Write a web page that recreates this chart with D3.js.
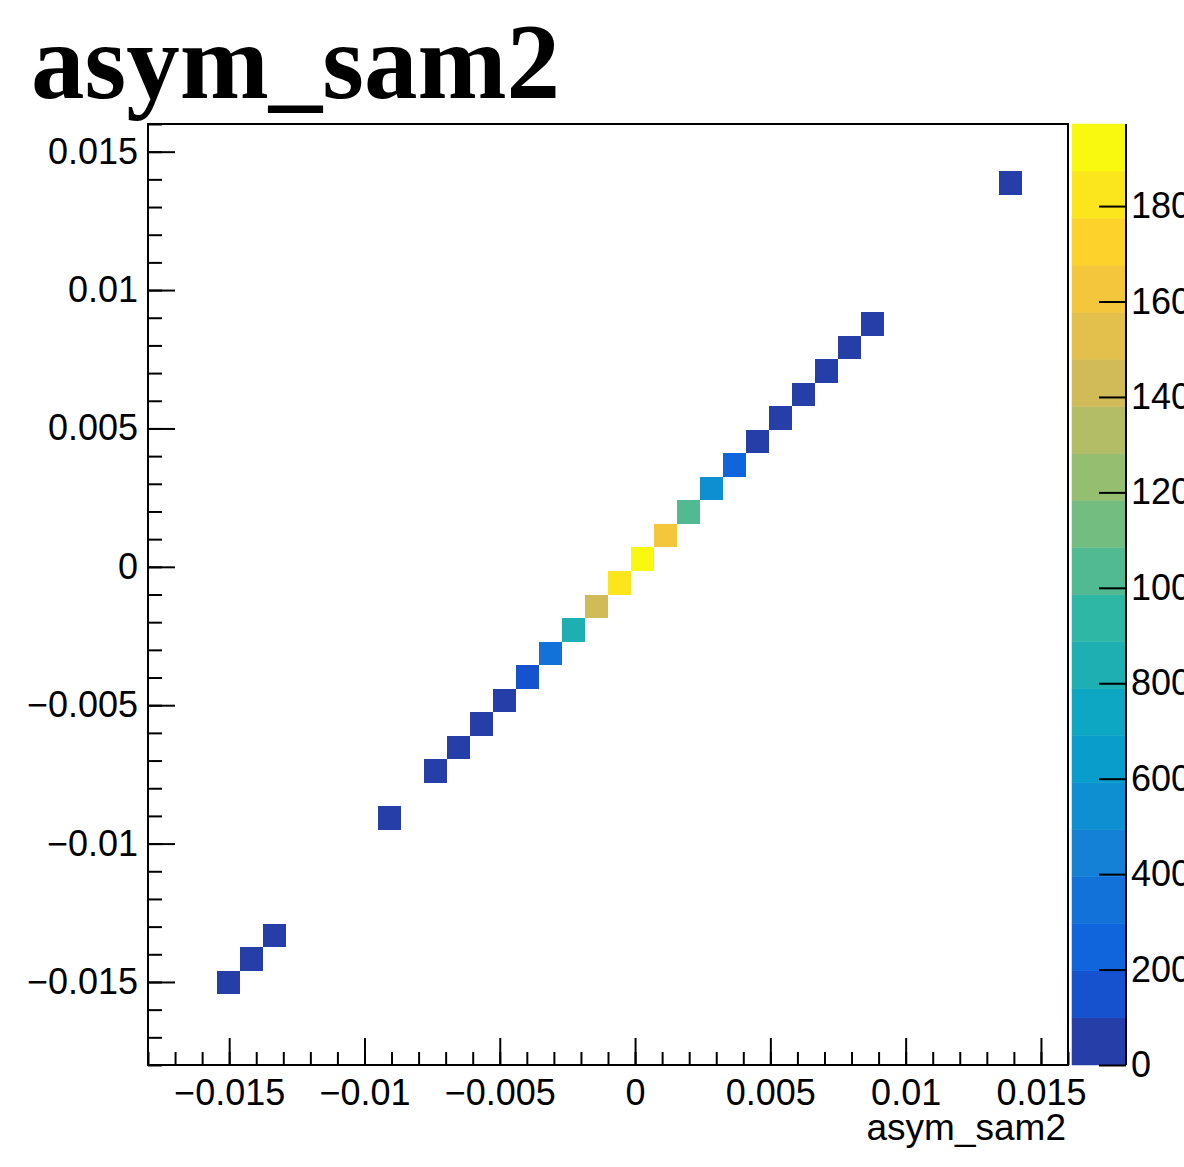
<!DOCTYPE html>
<html>
<head>
<meta charset="utf-8">
<script src="https://cdn.jsdelivr.net/npm/d3@7"></script>
<style>
  html, body { margin: 0; padding: 0; background: #ffffff; }
  svg { display: block; }
  .lbl { font-family: "Liberation Sans", Arial, Helvetica, sans-serif; font-size: 36px; fill: #000; }
</style>
</head>
<body>
<svg id="chart" width="1184" height="1167"></svg>
<script>
// ---------------- data ----------------
const chartTitle = "asym_sam2";
const xAxisTitle = "asym_sam2";
const axisMin = -0.018;
const axisMax = 0.016;
const nBins = 40;
// occupied bins (index along x and along y, 0-based) and their contents
const binIndexX = [3, 4, 5, 10, 12, 13, 14, 15, 16, 17, 18, 19, 20, 21, 22, 23, 24, 25, 26, 27, 28, 29, 30, 31, 37];
const binIndexY = [3, 4, 5, 10, 12, 13, 14, 15, 16, 17, 18, 19, 20, 21, 22, 23, 24, 25, 26, 27, 28, 29, 30, 31, 37];
const binCounts = [20, 30, 40, 10, 40, 50, 70, 90, 150, 345, 840, 1430, 1820, 1972, 1630, 1040, 540, 250, 90, 60, 40, 25, 15, 8, 5];
const xMajorTicks = [-0.015, -0.01, -0.005, 0, 0.005, 0.01, 0.015];
const xTickLabels = ["\u22120.015", "\u22120.01", "\u22120.005", "0", "0.005", "0.01", "0.015"];
const yMajorTicks = [-0.015, -0.01, -0.005, 0, 0.005, 0.01, 0.015];
const yTickLabels = ["\u22120.015", "\u22120.01", "\u22120.005", "0", "0.005", "0.01", "0.015"];
const minorStep = 0.001;
const zTicks = [0, 200, 400, 600, 800, 1000, 1200, 1400, 1600, 1800];
const zTickLabels = ["0", "200", "400", "600", "800", "1000", "1200", "1400", "1600", "1800"];
const nContours = 20;
// ROOT kBird palette stops
const birdStops = [0.0000, 0.1250, 0.2500, 0.3750, 0.5000, 0.6250, 0.7500, 0.8750, 1.0000];
const birdRed   = [0.2082, 0.0592, 0.0780, 0.0232, 0.1802, 0.5301, 0.8186, 0.9956, 0.9764];
const birdGreen = [0.1664, 0.3599, 0.5041, 0.6419, 0.7178, 0.7492, 0.7328, 0.7862, 0.9832];
const birdBlue  = [0.5293, 0.8684, 0.8385, 0.7914, 0.6425, 0.4662, 0.3499, 0.1968, 0.0539];

// ---------------- palette (255-colour gradient as in ROOT) ----------------
const nPal = 255;
const palette = [];
for (let g = 1; g < birdStops.length; g++) {
  const n = Math.floor(nPal * birdStops[g]) - Math.floor(nPal * birdStops[g - 1]);
  for (let c = 0; c < n; c++) {
    const f = c / n;
    const r = birdRed[g - 1] + (birdRed[g] - birdRed[g - 1]) * f;
    const gg = birdGreen[g - 1] + (birdGreen[g] - birdGreen[g - 1]) * f;
    const b = birdBlue[g - 1] + (birdBlue[g] - birdBlue[g - 1]) * f;
    palette.push(d3.rgb(Math.round(r * 255), Math.round(gg * 255), Math.round(b * 255)).formatHex());
  }
}
function levelColor(L) {
  const idx = Math.min(palette.length - 1, Math.floor((L + 0.99) * palette.length / nContours));
  return palette[idx];
}

// ---------------- layout ----------------
const svg = d3.select("#chart");
const frame = { left: 148, right: 1068, top: 124, bottom: 1065 };
const cbar = { left: 1072, right: 1126 };
const binWidth = (axisMax - axisMin) / nBins;

const x = d3.scaleLinear().domain([axisMin, axisMax]).range([frame.left, frame.right]);
const y = d3.scaleLinear().domain([axisMin, axisMax]).range([frame.bottom, frame.top]);
const zMax = d3.max(binCounts);
const z = d3.scaleLinear().domain([0, zMax]).range([frame.bottom, frame.top]);
const dz = zMax / nContours;

// ---------------- bins ----------------
const bins = binCounts.map((v, i) => ({ ix: binIndexX[i], iy: binIndexY[i], v }));
svg.append("g").selectAll("rect").data(bins).join("rect")
  .attr("x", d => x(axisMin + d.ix * binWidth))
  .attr("y", d => y(axisMin + (d.iy + 1) * binWidth))
  .attr("width", d => x(axisMin + (d.ix + 1) * binWidth) - x(axisMin + d.ix * binWidth))
  .attr("height", d => y(axisMin + d.iy * binWidth) - y(axisMin + (d.iy + 1) * binWidth))
  .attr("fill", d => levelColor(Math.min(nContours - 1, Math.floor(d.v / dz))))
  .attr("shape-rendering", "crispEdges");

// ---------------- frame ----------------
svg.append("rect")
  .attr("x", frame.left).attr("y", frame.top)
  .attr("width", frame.right - frame.left).attr("height", frame.bottom - frame.top)
  .attr("fill", "none").attr("stroke", "#000").attr("stroke-width", 2);

// ---------------- axes ----------------
const minorTicks = d3.range(Math.round(axisMin / minorStep), Math.round(axisMax / minorStep) + 1)
  .map(k => k * minorStep);

function styleAxis(g) {
  g.select(".domain").remove();
  g.selectAll(".tick line").attr("stroke", "#000").attr("stroke-width", 2);
  g.selectAll(".tick text").attr("class", "lbl").attr("fill", "#000");
}

// x axis
svg.append("g").attr("transform", `translate(0,${frame.bottom})`)
  .call(d3.axisBottom(x).tickValues(minorTicks).tickSize(-13).tickFormat(""))
  .call(styleAxis);
svg.append("g").attr("transform", `translate(0,${frame.bottom})`)
  .call(d3.axisBottom(x).tickValues(xMajorTicks).tickSize(-27).tickPadding(14)
    .tickFormat((d, i) => xTickLabels[i]))
  .call(styleAxis);

// y axis
svg.append("g").attr("transform", `translate(${frame.left},0)`)
  .call(d3.axisLeft(y).tickValues(minorTicks).tickSize(-14).tickFormat(""))
  .call(styleAxis);
svg.append("g").attr("transform", `translate(${frame.left},0)`)
  .call(d3.axisLeft(y).tickValues(yMajorTicks).tickSize(-27).tickPadding(10)
    .tickFormat((d, i) => yTickLabels[i]))
  .call(styleAxis);

// ---------------- colour bar ----------------
const levels = d3.range(nContours);
svg.append("g").selectAll("rect").data(levels).join("rect")
  .attr("x", cbar.left)
  .attr("width", cbar.right - cbar.left)
  .attr("y", L => z((L + 1) * dz))
  .attr("height", L => z(L * dz) - z((L + 1) * dz))
  .attr("fill", L => levelColor(L))
  .attr("stroke", L => levelColor(L))
  .attr("stroke-width", 0.5);

svg.append("line")
  .attr("x1", cbar.right).attr("x2", cbar.right)
  .attr("y1", frame.top).attr("y2", frame.bottom)
  .attr("stroke", "#000").attr("stroke-width", 2);

svg.append("g").attr("transform", `translate(${cbar.right},0)`)
  .call(d3.axisRight(z).tickValues(zTicks).tickSize(-27).tickPadding(5)
    .tickFormat((d, i) => zTickLabels[i]))
  .call(styleAxis);

// ---------------- titles ----------------
svg.append("text")
  .attr("x", 31).attr("y", 98)
  .attr("font-family", "\"Liberation Serif\", \"Times New Roman\", Times, serif")
  .attr("font-weight", "bold")
  .attr("font-size", 107)
  .attr("fill", "#000")
  .text(chartTitle);

svg.append("text")
  .attr("class", "lbl")
  .attr("x", frame.right - 2).attr("y", 1140)
  .attr("text-anchor", "end")
  .style("font-size", "37px")
  .text(xAxisTitle);
</script>
</body>
</html>
